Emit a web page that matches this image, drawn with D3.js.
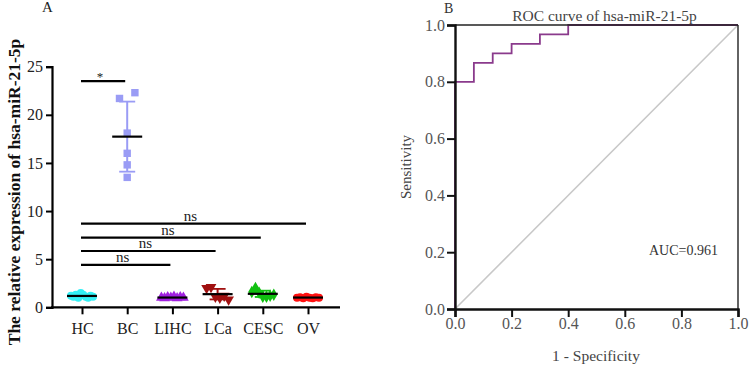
<!DOCTYPE html>
<html>
<head>
<meta charset="utf-8">
<script src="https://cdn.jsdelivr.net/npm/d3@7"></script>
<style>
  body { margin: 0; background: #fff; }
  svg { display: block; }
  text { font-family: "Liberation Serif", "Times New Roman", serif; }
</style>
</head>
<body>
<svg id="chart" width="750" height="365"></svg>
<script>
// ---------- Panel A data ----------
const categories = ["HC", "BC", "LIHC", "LCa", "CESC", "OV"];
const hcValues   = [1.2, 1.1, 1.3, 1.0, 1.5, 1.3, 1.1, 1.0, 1.2, 1.1];
const bcValues   = [21.7, 22.3, 18.1, 16.0, 14.8, 13.5];
const lihcValues = [1.0, 0.95, 1.05, 1.0, 1.1, 0.95, 1.05, 1.0];
const lcaValues  = [2.0, 2.1, 1.1, 1.0, 1.2, 0.8];
const cescValues = [1.6, 2.0, 1.5, 1.1, 1.1, 1.2, 1.3];
const ovValues   = [1.0, 1.05, 0.95, 1.1, 1.0, 0.95, 1.05, 1.0];
const groupValues = [hcValues, bcValues, lihcValues, lcaValues, cescValues, ovValues];
const groupColors = ["#33f0f5", "#9a9cf5", "#a020e0", "#a01010", "#10c010", "#ff1010"];
const groupShapes = ["circle", "square", "triangle", "triangleDown", "diamond", "circle"];
const yTicksA = [0, 5, 10, 15, 20, 25];
// comparisons: [from, to, y value, label]
const comparisons = [
  ["HC", "BC", 23.5, "*"],
  ["HC", "LIHC", 4.4, "ns"],
  ["HC", "LCa", 5.85, "ns"],
  ["HC", "CESC", 7.25, "ns"],
  ["HC", "OV", 8.7, "ns"]
];

// ---------- Panel B data ----------
const rocFpr = [0, 0, 0.0667, 0.0667, 0.1333, 0.1333, 0.2, 0.2, 0.3, 0.3, 0.4, 0.4, 1.0];
const rocTpr = [0, 0.8, 0.8, 0.8667, 0.8667, 0.9, 0.9, 0.9333, 0.9333, 0.9667, 0.9667, 1.0, 1.0];
const rocTicks = [0, 0.2, 0.4, 0.6, 0.8, 1.0];
const aucLabel = "AUC=0.961";

const svg = d3.select("#chart");

// ================= Panel A =================
const yA = d3.scaleLinear().domain([0, 25]).range([307.3, 66.7]);
const xA = d3.scalePoint().domain(categories).range([82, 308]);
const axisA = svg.append("g");

// y axis
const gyA = axisA.append("g").attr("transform", "translate(52,0)")
  .call(d3.axisLeft(yA).tickValues(yTicksA).tickSize(6).tickPadding(3).tickFormat(d3.format("d")));
gyA.select(".domain").attr("stroke", "#000").attr("stroke-width", 2.2);
gyA.selectAll(".tick line").attr("stroke", "#000").attr("stroke-width", 2);
gyA.selectAll(".tick text").attr("font-size", 16).attr("fill", "#222")
  .style("font-family", "Liberation Serif");

// x axis
const gxA = axisA.append("g").attr("transform", "translate(0,307.3)")
  .call(d3.axisBottom(xA).tickSize(7).tickPadding(8));
gxA.select(".domain").remove();
gxA.append("line").attr("x1", 51).attr("x2", 340).attr("y1", 0).attr("y2", 0)
  .attr("stroke", "#000").attr("stroke-width", 2.2);
gxA.selectAll(".tick line").attr("stroke", "#000").attr("stroke-width", 2);
gxA.selectAll(".tick text").attr("font-size", 16).attr("fill", "#222")
  .style("font-family", "Liberation Serif");

// y label
svg.append("text")
  .attr("transform", "translate(20,192) rotate(-90)")
  .attr("text-anchor", "middle")
  .attr("font-size", 17.5).attr("font-weight", "bold").attr("fill", "#111")
  .text("The relative expression of hsa-miR-21-5p");

svg.append("text").attr("x", 42).attr("y", 12).attr("font-size", 15).attr("fill", "#222").text("A");

const symbolFor = {
  circle: d3.symbolCircle, square: d3.symbolSquare, triangle: d3.symbolTriangle,
  triangleDown: d3.symbolTriangle, diamond: d3.symbolDiamond
};

groupValues.forEach((vals, gi) => {
  const cx = xA(categories[gi]);
  const color = groupColors[gi];
  const n = vals.length;
  const mean = d3.mean(vals);
  const sd = d3.deviation(vals);
  const g = svg.append("g");
  const spread = gi === 1 ? 0 : 22 / (n - 1);
  // error bar
  g.append("line").attr("x1", cx).attr("x2", cx).attr("y1", yA(mean + sd)).attr("y2", yA(mean - sd))
    .attr("stroke", color).attr("stroke-width", 2);
  [mean + sd, mean - sd].forEach(v => {
    g.append("line").attr("x1", cx - 8).attr("x2", cx + 8).attr("y1", yA(v)).attr("y2", yA(v))
      .attr("stroke", color).attr("stroke-width", 1.8);
  });
  // points
  vals.forEach((v, i) => {
    let dx = (i - (n - 1) / 2) * spread;
    if (gi === 1) {
      // BC: the two top points sit apart
      if (i === 0) dx = -7.7; else if (i === 1) dx = 7.7; else dx = 0;
    }
    const shape = groupShapes[gi];
    const size = shape === "square" ? 55 : (shape === "diamond" ? 45 : 50);
    let rot = shape === "triangleDown" ? 180 : 0;
    g.append("path")
      .attr("d", d3.symbol().type(symbolFor[shape]).size(size)())
      .attr("transform", `translate(${cx + dx},${yA(v)}) rotate(${rot})`)
      .attr("fill", color);
  });
  // mean line
  g.append("line").attr("x1", cx - 15).attr("x2", cx + 15).attr("y1", yA(mean)).attr("y2", yA(mean))
    .attr("stroke", "#000").attr("stroke-width", 2.2);
});

// significance bars
comparisons.forEach(([a, b, v, lab]) => {
  const x1 = xA(a) - 1, x2 = xA(b) - 2;
  svg.append("line").attr("x1", x1).attr("x2", x2).attr("y1", yA(v)).attr("y2", yA(v))
    .attr("stroke", "#000").attr("stroke-width", 2.2);
  svg.append("text").attr("x", (x1 + x2) / 2 - 3).attr("y", yA(v) - (lab === "*" ? 0 : 3))
    .attr("text-anchor", "middle").attr("font-size", lab === "*" ? 13 : 15).attr("fill", "#222")
    .text(lab);
});

// ================= Panel B =================
const xB = d3.scaleLinear().domain([0, 1]).range([455, 738]);
const yB = d3.scaleLinear().domain([0, 1]).range([309, 25]);

// diagonal
svg.append("line").attr("x1", xB(0)).attr("y1", yB(0)).attr("x2", xB(1)).attr("y2", yB(1))
  .attr("stroke", "#c8c8c8").attr("stroke-width", 1.6);

// ROC curve
const rocPts = rocFpr.map((f, i) => [f, rocTpr[i]]);
svg.append("path")
  .attr("d", d3.line().x(d => xB(d[0])).y(d => yB(d[1]))(rocPts))
  .attr("fill", "none").attr("stroke", "#8a3a8c").attr("stroke-width", 1.8);

// frame top/right
svg.append("line").attr("x1", xB(0)).attr("x2", xB(1)).attr("y1", yB(1)).attr("y2", yB(1))
  .attr("stroke", "#222").attr("stroke-width", 1.4);
svg.append("line").attr("x1", xB(1)).attr("x2", xB(1)).attr("y1", yB(1)).attr("y2", yB(0))
  .attr("stroke", "#222").attr("stroke-width", 1.4);

const gyB = svg.append("g").attr("transform", `translate(${xB(0)},0)`)
  .call(d3.axisLeft(yB).tickValues(rocTicks).tickSize(8).tickPadding(2).tickFormat(d3.format(".1f")));
gyB.select(".domain").attr("stroke", "#111").attr("stroke-width", 2.4);
gyB.selectAll(".tick line").attr("stroke", "#111").attr("stroke-width", 2);
gyB.selectAll(".tick text").attr("font-size", 16).attr("fill", "#555")
  .style("font-family", "Liberation Serif");

const gxB = svg.append("g").attr("transform", `translate(0,${yB(0)})`)
  .call(d3.axisBottom(xB).tickValues(rocTicks).tickSize(8).tickPadding(1).tickFormat(d3.format(".1f")));
gxB.select(".domain").attr("stroke", "#111").attr("stroke-width", 2.4);
gxB.selectAll(".tick line").attr("stroke", "#111").attr("stroke-width", 2);
gxB.selectAll(".tick text").attr("font-size", 16).attr("fill", "#555")
  .style("font-family", "Liberation Serif");

svg.append("text").attr("x", (xB(0) + xB(1)) / 2 + 8).attr("y", 21).attr("text-anchor", "middle")
  .attr("font-size", 15.5).attr("fill", "#444").text("ROC curve of hsa-miR-21-5p");
svg.append("text").attr("x", 444).attr("y", 13).attr("font-size", 14).attr("fill", "#333").text("B");
svg.append("text").attr("transform", `translate(411,${(yB(0) + yB(1)) / 2}) rotate(-90)`)
  .attr("text-anchor", "middle").attr("font-size", 15).attr("fill", "#444").text("Sensitivity");
svg.append("text").attr("x", 596).attr("y", 361).attr("text-anchor", "middle")
  .attr("font-size", 15.5).attr("fill", "#444").text("1 - Specificity");
svg.append("text").attr("x", 649).attr("y", 255).attr("font-size", 14).attr("fill", "#333").text(aucLabel);
</script>
</body>
</html>
